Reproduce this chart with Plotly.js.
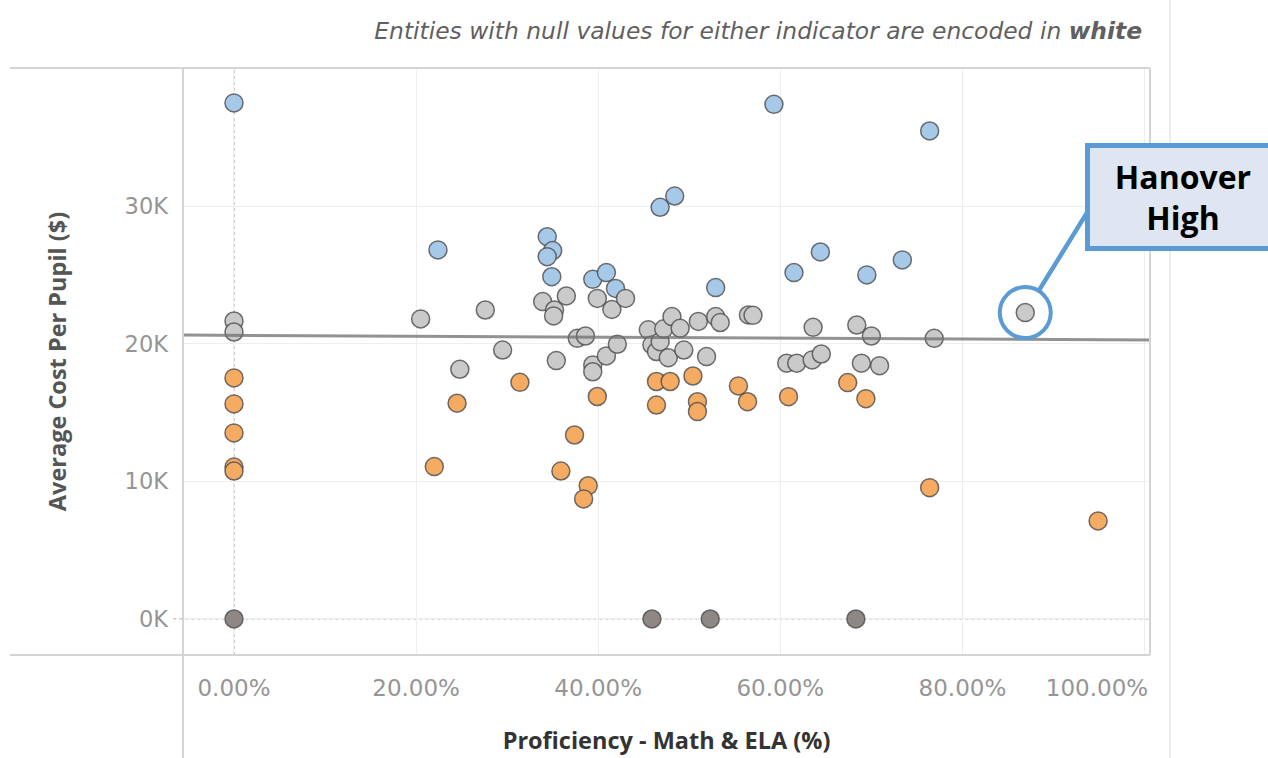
<!DOCTYPE html>
<html>
<head>
<meta charset="utf-8">
<script src="https://cdn.plot.ly/plotly-3.0.1.min.js"></script>
<style>
  html, body { margin: 0; padding: 0; background: #ffffff; }
  #chart { width: 1268px; height: 758px; }
</style>
</head>
<body>
<div id="chart"></div>
<script>
// ---- Data (x = Proficiency Math & ELA in %, y = Average Cost Per Pupil in $) ----
const highCostX = [0, 22.4, 34.4, 35.0, 34.4, 34.9, 39.4, 40.9, 41.9, 46.8, 48.4, 52.9, 59.3, 76.4, 64.4, 61.5, 69.5, 73.4];
const highCostY = [37530, 26840, 27800, 26790, 26350, 24890, 24700, 25190, 24040, 29940, 30760, 24100, 37430, 35490, 26690, 25190, 25020, 26110];

const midCostX = [0, 0, 20.5, 27.6, 24.8, 29.5, 33.9, 35.2, 35.1, 36.5, 35.4, 37.7, 38.6, 39.9, 41.5, 43.0, 39.4, 39.4, 40.9, 42.1,
                  45.5, 45.9, 46.4, 46.8, 47.2, 48.1, 49.0, 47.7, 49.4, 51.0, 52.9, 53.4, 51.9, 56.5, 57.0,
                  60.7, 61.8, 63.5, 64.5, 63.6, 68.4, 70.0, 68.9, 70.9, 76.9];
const midCostY = [21670, 20870, 21820, 22470, 18160, 19560, 23080, 22470, 22040, 23490, 18790, 20410, 20580, 23310, 22510, 23310, 18470, 17980, 19130, 19980,
                  21030, 19930, 19450, 20170, 21100, 21990, 21140, 19000, 19560, 21640, 21990, 21560, 19080, 22110, 22080,
                  18600, 18600, 18840, 19270, 21210, 21380, 20580, 18600, 18420, 20410];

const lowCostX = [0, 0, 0, 0, 0, 22.0, 24.5, 31.4, 39.9, 37.4, 35.9, 38.9, 38.4, 46.4, 47.9, 50.4, 46.4, 50.9, 50.9, 55.4, 56.4, 60.9, 67.4, 69.4, 76.4, 94.9];
const lowCostY = [17530, 15640, 13530, 11050, 10760, 11080, 15690, 17210, 16180, 13380, 10760, 9690, 8730, 17270, 17270, 17670, 15560, 15800, 15080, 16950, 15800, 16170, 17190, 16020, 9550, 7130];

const zeroCostX = [0, 45.9, 52.3, 68.3];
const zeroCostY = [0, 0, 0, 0];

const hanoverX = [86.9];
const hanoverY = [22280];
const hanoverLabel = 'Hanover<br>High';

// Trend line (linear fit): y = intercept + slope * x
const trendIntercept = 20630;
const trendSlope = -3.39;

const xTickVals = [0, 20, 40, 60, 80, 100];
const xTickText = ['0.00%', '20.00%', '40.00%', '60.00%', '80.00%', '100.00%' + '\u00A0'.repeat(13)];
const yTickVals = [0, 10000, 20000, 30000];
const yTickText = ['0K', '10K', '20K', '30K'];

const subtitle = '<i>Entities with null values for either indicator are encoded in <b>white</b></i>';
const xTitle = 'Proficiency - Math & ELA (%)';
const yTitle = 'Average Cost Per Pupil ($)';

// ---- Chart ----
const xRange = [-5.6, 100.6];
const yRange = [-2620, 40070];
const outline = { color: 'rgba(75,75,75,0.8)', width: 1.5 };
const msize = 18;

function pts(x, y, color) {
  return { type: 'scatter', mode: 'markers', x: x, y: y, hoverinfo: 'x+y',
           marker: { size: msize, color: color, line: outline }, showlegend: false };
}

const trendX = xRange.slice();
const trendY = trendX.map(v => trendIntercept + trendSlope * v);

const traces = [
  pts(highCostX, highCostY, '#a7c9e9'),
  pts(midCostX, midCostY, '#cacaca'),
  pts(hanoverX, hanoverY, '#cacaca'),
  pts(lowCostX, lowCostY, '#f5ab62'),
  pts(zeroCostX, zeroCostY, '#8e8784'),
  { type: 'scatter', mode: 'lines', x: trendX, y: trendY, showlegend: false, hoverinfo: 'skip',
    line: { color: 'rgba(110,110,110,0.75)', width: 3 } },
  { type: 'scatter', mode: 'markers', x: hanoverX, y: hanoverY, showlegend: false, hoverinfo: 'skip',
    marker: { symbol: 'circle-open', size: 51, color: '#5b9bd5', line: { color: '#5b9bd5', width: 4 } } }
];

const lineCol = '#d4d4d4';
const tickFamily = 'DejaVu Sans, sans-serif';
const layout = {
  width: 1268, height: 758,
  paper_bgcolor: '#ffffff', plot_bgcolor: '#ffffff',
  margin: { l: 183, r: 118, t: 68, b: 103, pad: 0 },
  showlegend: false,
  title: {
    text: subtitle, xref: 'container', yref: 'container', x: 1142 / 1268, xanchor: 'right',
    y: 1 - 31 / 758, yanchor: 'middle',
    font: { family: 'DejaVu Sans, sans-serif', size: 23.4, color: '#606060' }
  },
  xaxis: {
    range: xRange, tickvals: xTickVals, ticktext: xTickText, ticks: '',
    showgrid: true, gridcolor: '#eeeeee', gridwidth: 1, zeroline: false, showline: false,
    ticklabelstandoff: 17,
    tickfont: { family: tickFamily, size: 23, color: '#959595' },
    title: { text: xTitle, standoff: 32, font: { family: 'Open Sans, sans-serif', size: 23.5, color: '#333333', weight: 'bold' } }
  },
  yaxis: {
    range: yRange, tickvals: yTickVals, ticktext: yTickText, ticks: '',
    showgrid: true, gridcolor: '#eeeeee', gridwidth: 1, zeroline: false, showline: false,
    ticklabelstandoff: 14,
    tickfont: { family: tickFamily, size: 22.5, color: '#959595' },
    title: { text: yTitle, standoff: 51, font: { family: 'Open Sans, sans-serif', size: 23.5, color: '#555555', weight: 'bold' } }
  },
  shapes: [
    // zero lines (dotted)
    { type: 'line', xref: 'x', yref: 'paper', x0: 0, x1: 0, y0: 0, y1: 1, layer: 'below',
      line: { color: '#b0b0b0', width: 1.2, dash: 'dot' } },
    { type: 'line', xref: 'paper', yref: 'y', x0: -0.01, x1: 1, y0: 0, y1: 0, layer: 'below',
      line: { color: '#b8b8b8', width: 1.2, dash: 'dot' } },
    // frame lines
    { type: 'line', xref: 'paper', yref: 'paper', x0: -0.179, x1: 1, y0: 1, y1: 1, line: { color: lineCol, width: 2 } },
    { type: 'line', xref: 'paper', yref: 'paper', x0: -0.179, x1: 1, y0: 0, y1: 0, line: { color: lineCol, width: 2 } },
    { type: 'line', xref: 'paper', yref: 'paper', x0: 0, x1: 0, y0: -0.176, y1: 1, line: { color: lineCol, width: 2 } },
    { type: 'line', xref: 'paper', yref: 'paper', x0: 1, x1: 1, y0: 0, y1: 1, line: { color: lineCol, width: 2 } },
    { type: 'line', xref: 'paper', yref: 'paper', x0: 1.0207, x1: 1.0207, y0: -0.176, y1: 1.116, line: { color: '#ececec', width: 2 } }
  ],
  annotations: [
    { xref: 'paper', yref: 'paper', x: 1.034, y: 0.780, xanchor: 'center', yanchor: 'middle',
      text: hanoverLabel, showarrow: false, align: 'center',
      font: { family: 'Open Sans, sans-serif', size: 32, color: '#000000', weight: 'bold' },
      bgcolor: '#dfe6f2', bordercolor: '#5b9bd5', borderwidth: 5, borderpad: 7, width: 172, height: 84 },
    { xref: 'x', yref: 'y', x: hanoverX[0], y: hanoverY[0], text: '', showarrow: true,
      arrowhead: 0, arrowwidth: 4.5, arrowcolor: '#5b9bd5', ax: 63, ay: -102, standoff: 27 }
  ]
};

Plotly.newPlot('chart', traces, layout, { staticPlot: true, displayModeBar: false });
</script>
</body>
</html>
